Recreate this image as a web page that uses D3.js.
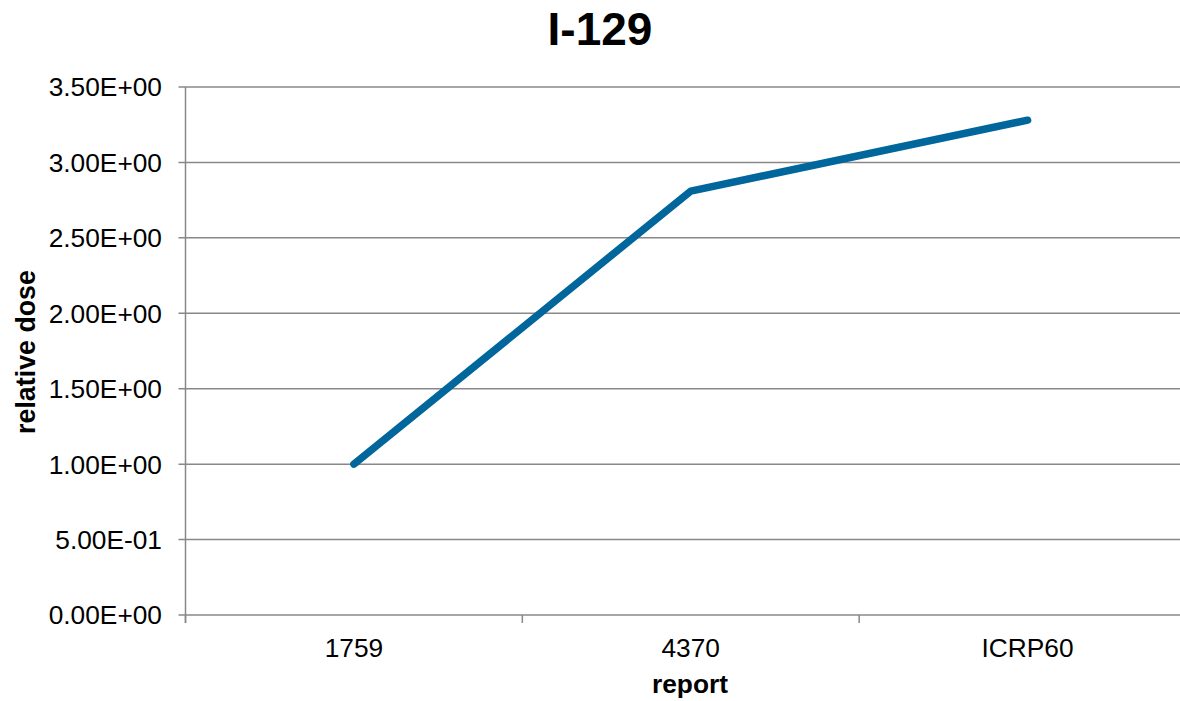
<!DOCTYPE html>
<html>
<head>
<meta charset="utf-8">
<script src="https://cdn.jsdelivr.net/npm/d3@7"></script>
<style>
  html, body { margin: 0; padding: 0; background: #fff; }
  svg { display: block; font-family: "Liberation Sans", Arial, sans-serif; }
</style>
</head>
<body>
<svg id="chart" width="1180" height="701"></svg>
<script>
// Relative dose of I-129 per report
const categories = ["1759", "4370", "ICRP60"];
const doseValues = [1.0, 2.81, 3.28];
const yTicks = [0, 0.5, 1.0, 1.5, 2.0, 2.5, 3.0, 3.5];

const chartTitle = "I-129";
const xTitle = "report";
const yTitle = "relative dose";

const svg = d3.select("#chart");
const plot = { left: 185.5, right: 1196, top: 87, bottom: 615 };

const x = d3.scaleBand().domain(categories).range([plot.left, plot.right]).padding(0);
const y = d3.scaleLinear().domain([0, 3.5]).range([plot.bottom, plot.top]);

const gridColor = "#888888";
const labelSize = 26.3;
// scientific format with two-digit exponent, e.g. 3.50E+00
const fmt = v => {
  const [m, e] = v.toExponential(2).split("e");
  const sign = e[0];
  const digits = e.slice(1).padStart(2, "0");
  return m + "E" + sign + digits;
};

// horizontal gridlines
svg.append("g")
  .selectAll("line")
  .data(yTicks)
  .join("line")
  .attr("x1", plot.left - 7)
  .attr("x2", plot.right)
  .attr("y1", d => y(d))
  .attr("y2", d => y(d))
  .attr("stroke", gridColor)
  .attr("stroke-width", 1.5);

// y axis line
svg.append("line")
  .attr("x1", plot.left).attr("x2", plot.left)
  .attr("y1", plot.top).attr("y2", plot.bottom + 8)
  .attr("stroke", gridColor).attr("stroke-width", 1.5);

// y tick labels
svg.append("g")
  .selectAll("text")
  .data(yTicks)
  .join("text")
  .attr("x", 162)
  .attr("y", d => y(d))
  .attr("dy", "0.36em")
  .attr("text-anchor", "end")
  .attr("font-size", labelSize)
  .attr("fill", "#000")
  .text(d => fmt(d));

// x tick marks between categories
const bounds = categories.map(c => x(c)).concat([plot.right]);
svg.append("g")
  .selectAll("line")
  .data(bounds)
  .join("line")
  .attr("x1", d => d).attr("x2", d => d)
  .attr("y1", plot.bottom).attr("y2", plot.bottom + 8)
  .attr("stroke", gridColor).attr("stroke-width", 1.5);

// x tick labels
svg.append("g")
  .selectAll("text")
  .data(categories)
  .join("text")
  .attr("x", d => x(d) + x.bandwidth() / 2)
  .attr("y", 657)
  .attr("text-anchor", "middle")
  .attr("font-size", labelSize)
  .attr("fill", "#000")
  .text(d => d);

// data line
const line = d3.line()
  .x((d, i) => x(categories[i]) + x.bandwidth() / 2)
  .y(d => y(d));

svg.append("path")
  .datum(doseValues)
  .attr("d", line)
  .attr("fill", "none")
  .attr("stroke", "#00669b")
  .attr("stroke-width", 7.5)
  .attr("stroke-linecap", "round")
  .attr("stroke-linejoin", "round");

// titles
svg.append("text")
  .attr("x", 600).attr("y", 45)
  .attr("text-anchor", "middle")
  .attr("font-size", 46).attr("font-weight", "bold")
  .text(chartTitle);

svg.append("text")
  .attr("x", 690).attr("y", 693)
  .attr("text-anchor", "middle")
  .attr("font-size", labelSize).attr("font-weight", "bold")
  .text(xTitle);

svg.append("text")
  .attr("transform", "translate(35,352) rotate(-90)")
  .attr("text-anchor", "middle")
  .attr("font-size", 26.8).attr("font-weight", "bold")
  .text(yTitle);
</script>
</body>
</html>
